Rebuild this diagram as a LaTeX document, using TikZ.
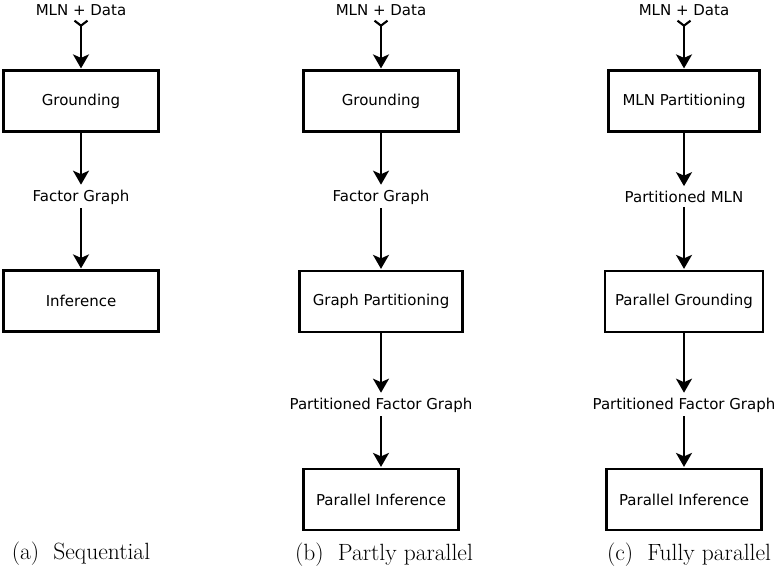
\documentclass[tikz,border=0pt]{standalone}
\usepackage{fontspec}
\newfontfamily\dejavu{DejaVu Sans}
\usetikzlibrary{arrows.meta}

\tikzstyle{box} = [rectangle, minimum width=155pt, minimum height=61pt, text centered, draw=black, line width=2.2pt, font=\dejavu\fontsize{15}{18}\selectfont]
\tikzstyle{lbl} = [inner sep=3pt, font=\dejavu\fontsize{15}{18}\selectfont]
\tikzstyle{subcap} = [inner sep=0pt, font=\fontsize{23.5}{28}\selectfont]
\tikzstyle{src} = [{Straight Barb[reversed,length=5pt,width=13pt]}->]

\begin{document}
\begin{tikzpicture}[x=1pt,y=1pt,>={Stealth[length=14pt,width=16pt,inset=3.5pt]},->,shorten >=1pt,line width=2.1pt,node distance=100pt]
\useasboundingbox (-81,10) rectangle (702,-559);

    % (a) sequential
    \node[lbl] (aIn) {MLN + Data};
    \node[box] (aG) [below of=aIn, node distance=91pt] {Grounding};
    \node[lbl] (aFG) [below of=aG, node distance=96pt] {Factor Graph};
    \node[box] (aI) [below of=aFG, node distance=104pt] {Inference};
    \node[subcap] (aC) [below of=aI, node distance=253pt] {(a)\hspace{0.6em}Sequential};

    % (b) partly parallel
    \node[lbl] (bIn) [right of=aIn, node distance=300pt] {MLN + Data};
    \node[box] (bG) [below of=bIn, node distance=91pt] {Grounding};
    \node[lbl] (bFG) [below of=bG, node distance=96pt] {Factor Graph};
    \node[box, minimum width=163pt] (bP) [below of=bFG, node distance=104.5pt] {Graph Partitioning};
    \node[lbl] (bPFG) [below of=bP, node distance=103.5pt] {Partitioned Factor Graph};
    \node[box] (bPI) [below of=bPFG, node distance=94.5pt] {Parallel Inference};
    \node[subcap] (bC) [below of=bPI, node distance=55pt, xshift=3pt] {(b)\hspace{0.6em}Partly parallel};

    % (c) fully parallel
    \node[lbl] (cIn) [right of=bIn, node distance=303pt] {MLN + Data};
    \node[box, minimum width=151pt] (cM) [below of=cIn, node distance=91pt] {MLN Partitioning};
    \node[lbl] (cPM) [below of=cM, node distance=96pt] {Partitioned MLN};
    \node[box, minimum width=158pt] (cG) [below of=cPM, node distance=104.5pt] {Parallel Grounding};
    \node[lbl] (cPFG) [below of=cG, node distance=103.5pt] {Partitioned Factor Graph};
    \node[box] (cPI) [below of=cPFG, node distance=94.5pt] {Parallel Inference};
    \node[subcap] (cC) [below of=cPI, node distance=55pt, xshift=5pt] {(c)\hspace{0.6em}Fully parallel};

    \draw[src] (aIn) -- (aG);
    \draw (aG) -- (aFG);
    \draw (aFG) -- (aI);

    \draw[src] (bIn) -- (bG);
    \draw (bG) -- (bFG);
    \draw (bFG) -- (bP);
    \draw (bP) -- (bPFG);
    \draw (bPFG) -- (bPI);

    \draw[src] (cIn) -- (cM);
    \draw (cM) -- (cPM);
    \draw (cPM) -- (cG);
    \draw (cG) -- (cPFG);
    \draw (cPFG) -- (cPI);

\end{tikzpicture}
\end{document}
